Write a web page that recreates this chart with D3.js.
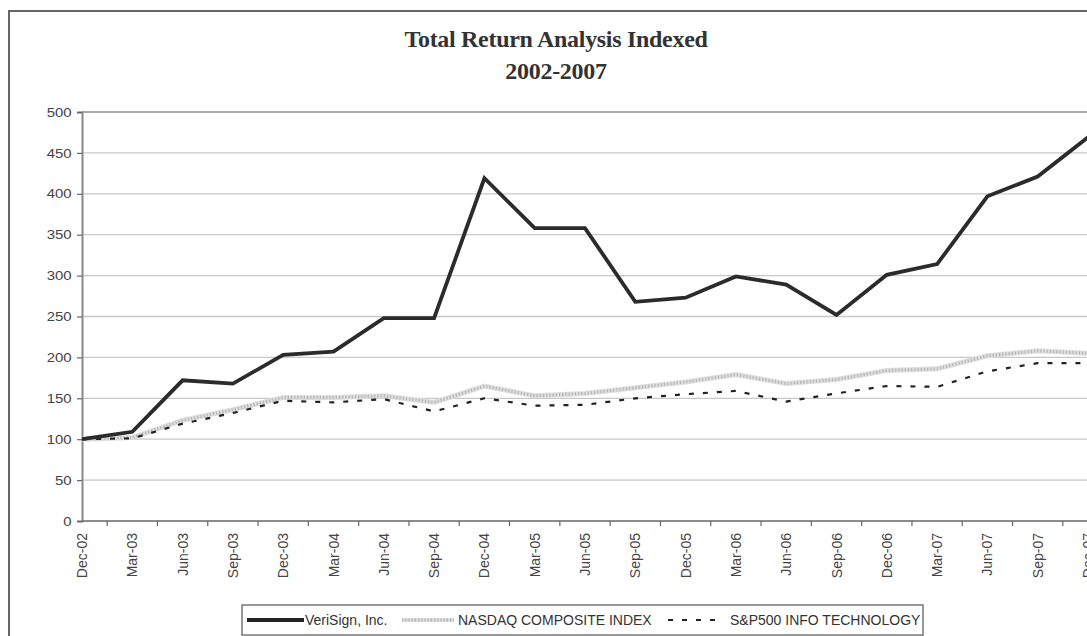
<!DOCTYPE html>
<html>
<head>
<meta charset="utf-8">
<script src="https://cdnjs.cloudflare.com/ajax/libs/d3/7.8.5/d3.min.js"></script>
<style>
html,body{margin:0;padding:0;background:#fff;}
svg{display:block;}
</style>
</head>
<body>
<svg id="chart" width="1087" height="636"></svg>
<script>
const categories = ["Dec-02","Mar-03","Jun-03","Sep-03","Dec-03","Mar-04","Jun-04","Sep-04","Dec-04","Mar-05","Jun-05","Sep-05","Dec-05","Mar-06","Jun-06","Sep-06","Dec-06","Mar-07","Jun-07","Sep-07","Dec-07"];
const verisign = [100,109,172,168,203,207,248,248,419,358,358,268,273,299,289,252,301,314,397,421,469];
const nasdaq   = [100,102,123,136,151,151,153,145,165,153,156,163,170,179,168,173,184,186,202,208,205];
const sp500it  = [100,101,119,132,147,145,149,134,150,141,142,150,155,159,146,156,165,164,183,193,193];
const yTicks = [0,50,100,150,200,250,300,350,400,450,500];
const seriesNames = ["VeriSign, Inc.","NASDAQ COMPOSITE INDEX","S&P500 INFO TECHNOLOGY"];
const titleLines = ["Total Return Analysis Indexed","2002-2007"];

(function(){
const svg = d3.select("#chart");
const W = 1087, H = 636;
const pLeft = 82, pTop = 112, pBottom = 521;
const step = 50.3;

const x = d3.scalePoint().domain(categories).range([pLeft, pLeft + step*(categories.length-1)]);
const y = d3.scaleLinear().domain([0,500]).range([pBottom, pTop]);

// outer border
svg.append("path").attr("d", `M9,${H+5} L9,11 L${W+5},11`)
  .attr("fill","none").attr("stroke","#666").attr("stroke-width",2);

// title
svg.append("text").attr("x",556).attr("y",47).attr("text-anchor","middle")
  .attr("font-family","Liberation Serif").attr("font-weight","bold").attr("font-size",24).attr("fill","#333")
  .attr("letter-spacing",-0.3)
  .text(titleLines[0]);
svg.append("text").attr("x",556).attr("y",79).attr("text-anchor","middle")
  .attr("font-family","Liberation Serif").attr("font-weight","bold").attr("font-size",24).attr("fill","#333")
  .attr("letter-spacing",-0.3)
  .text(titleLines[1]);

// gridlines
svg.append("g").selectAll("line").data(yTicks.filter(d=>d>0)).join("line")
  .attr("x1",pLeft).attr("x2",W)
  .attr("y1",d=>y(d)).attr("y2",d=>y(d))
  .attr("stroke",d=>d===500?"#a8a8a8":"#c8c8c8").attr("stroke-width",d=>d===500?2:1.3);

// y axis
const yAxis = svg.append("g").attr("transform",`translate(${pLeft},0)`)
  .call(d3.axisLeft(y).tickValues(yTicks).tickSize(5).tickPadding(4));
yAxis.select(".domain").attr("stroke","#888").attr("stroke-width",2);
yAxis.selectAll(".tick line").attr("stroke","#666").attr("stroke-width",1.2);
yAxis.selectAll("text").attr("font-family","Liberation Sans").attr("font-size",13).attr("fill","#444")
  .attr("x",-9).attr("transform","scale(1.15,1)");

// x axis line
svg.append("line").attr("x1",pLeft).attr("x2",W).attr("y1",pBottom).attr("y2",pBottom)
  .attr("stroke","#666").attr("stroke-width",1.5);
// x ticks between categories
svg.append("g").selectAll("line").data(categories.slice(0,-1)).join("line")
  .attr("x1",d=>x(d)+step/2).attr("x2",d=>x(d)+step/2)
  .attr("y1",pBottom).attr("y2",pBottom+5)
  .attr("stroke","#666").attr("stroke-width",1.2);
// x labels
svg.append("g").selectAll("text").data(categories).join("text")
  .attr("transform",d=>`translate(${x(d)},${pBottom+12}) rotate(-90)`)
  .attr("text-anchor","end").attr("dy","0.36em")
  .attr("font-family","Liberation Sans").attr("font-size",14).attr("fill","#444")
  .text(d=>d);

// lines
const line = (vals)=>d3.line().x((d,i)=>x(categories[i])).y(d=>y(d))(vals);
const plot = svg.append("g");
plot.append("path").attr("d",line(nasdaq)).attr("fill","none")
  .attr("stroke","#dedede").attr("stroke-width",5);
plot.append("path").attr("d",line(nasdaq)).attr("fill","none")
  .attr("stroke","#b4b4b4").attr("stroke-width",3).attr("stroke-dasharray","1.2,2");
plot.append("path").attr("d",line(sp500it)).attr("fill","none")
  .attr("stroke","#222").attr("stroke-width",2.2).attr("stroke-dasharray","5,9");
plot.append("path").attr("d",line(verisign)).attr("fill","none")
  .attr("stroke","#2b2b2b").attr("stroke-width",3.8).attr("stroke-linejoin","miter");

// legend
const lg = svg.append("g");
lg.append("rect").attr("x",242).attr("y",605).attr("width",681).attr("height",30)
  .attr("fill","#fff").attr("stroke","#777").attr("stroke-width",1.5);
const ly = 620;
lg.append("line").attr("x1",247).attr("x2",304).attr("y1",ly).attr("y2",ly)
  .attr("stroke","#222").attr("stroke-width",4);
lg.append("line").attr("x1",402).attr("x2",454).attr("y1",ly).attr("y2",ly)
  .attr("stroke","#dedede").attr("stroke-width",4);
lg.append("line").attr("x1",402).attr("x2",454).attr("y1",ly).attr("y2",ly)
  .attr("stroke","#b4b4b4").attr("stroke-width",3).attr("stroke-dasharray","1.2,2");
lg.append("line").attr("x1",668).attr("x2",716).attr("y1",ly).attr("y2",ly)
  .attr("stroke","#222").attr("stroke-width",2).attr("stroke-dasharray","5,9");
const legendX = [305,458,730];
lg.selectAll("text.lt").data(seriesNames).join("text").attr("class","lt")
  .attr("x",(d,i)=>legendX[i]).attr("y",ly).attr("dy","0.36em")
  .attr("font-family","Liberation Sans").attr("font-size",14).attr("fill","#333")
  .text(d=>d);
})();
</script>
</body>
</html>
